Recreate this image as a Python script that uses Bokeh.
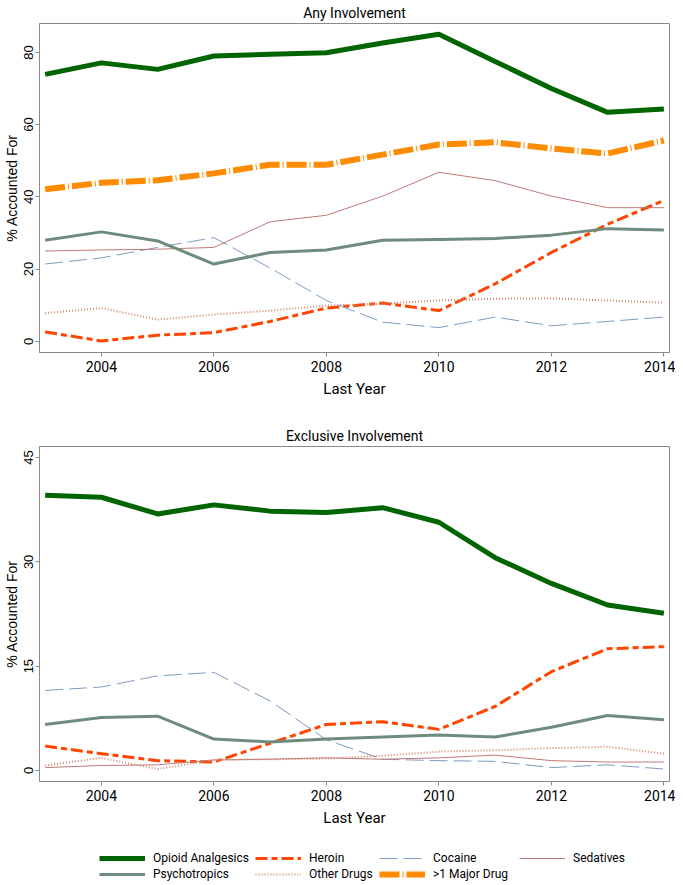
from bokeh.plotting import figure
from bokeh.models import FixedTicker, Legend, LegendItem, Range1d, Title
from bokeh.layouts import column
from bokeh.embed import file_html
from bokeh.resources import INLINE

years = list(range(2003, 2015))
x_ticks = [2004, 2006, 2008, 2010, 2012, 2014]
any_y_ticks = [0, 20, 40, 60, 80]
excl_y_ticks = [0, 15, 30, 45]

series_names = ["Opioid Analgesics", "Heroin", "Cocaine", "Sedatives",
                "Psychotropics", "Other Drugs", ">1 Major Drug"]

# Any involvement (%)
any_opioid = [73.9, 77.1, 75.3, 79.0, 79.5, 79.9, 82.6, 85.0, 77.5, 70.0, 63.4, 64.3]
any_heroin = [2.6, 0.1, 1.7, 2.4, 5.5, 9.2, 10.6, 8.5, 15.9, 24.6, 32.4, 39.0]
any_cocaine = [21.4, 23.1, 26.0, 28.7, 20.3, 11.3, 5.3, 3.8, 6.7, 4.3, 5.5, 6.7]
any_sedatives = [25.0, 25.3, 25.5, 26.0, 33.1, 34.9, 40.2, 46.8, 44.5, 40.2, 37.0, 37.0]
any_psycho = [28.0, 30.3, 27.8, 21.4, 24.6, 25.3, 28.0, 28.2, 28.5, 29.4, 31.2, 30.8]
any_other = [7.8, 9.2, 6.0, 7.4, 8.5, 9.9, 10.4, 11.3, 11.8, 11.9, 11.3, 10.7]
any_multi = [42.1, 43.9, 44.6, 46.5, 48.9, 48.9, 51.7, 54.5, 55.1, 53.4, 52.0, 55.6]

# Exclusive involvement (%)
ex_opioid = [39.6, 39.3, 36.9, 38.2, 37.3, 37.1, 37.8, 35.7, 30.6, 26.9, 23.8, 22.6]
ex_heroin = [3.5, 2.4, 1.4, 1.2, 3.9, 6.6, 7.0, 5.9, 9.2, 14.2, 17.5, 17.8]
ex_cocaine = [11.5, 12.0, 13.6, 14.1, 10.0, 4.4, 1.6, 1.4, 1.3, 0.4, 0.8, 0.2]
ex_sedatives = [0.4, 0.7, 0.8, 1.5, 1.6, 1.8, 1.6, 1.8, 2.2, 1.4, 1.2, 1.2]
ex_psycho = [6.6, 7.6, 7.8, 4.5, 4.1, 4.5, 4.8, 5.1, 4.8, 6.2, 7.9, 7.3]
ex_other = [0.7, 1.8, 0.2, 1.5, 1.6, 1.7, 2.1, 2.7, 2.9, 3.2, 3.4, 2.4]

styles = {
    "Opioid Analgesics": dict(line_color="#006400", line_width=5),
    "Heroin": dict(line_color="#FF4500", line_width=3, line_dash="12 4 6 4"),
    "Cocaine": dict(line_color="#7B9CC4", line_width=1, line_dash="18 6"),
    "Sedatives": dict(line_color="#C07878", line_width=1),
    "Psychotropics": dict(line_color="#6E8B7C", line_width=3),
    "Other Drugs": dict(line_color="#D4876C", line_width=2, line_dash="1 2"),
    ">1 Major Drug": dict(line_color="#FF8C00", line_width=6, line_dash="20 3 1 3"),
}

NARROW = "Roboto"
WIDE = "Liberation Sans"
GRAY = "#8a8a8a"


def make_fig(title, height, y_range, y_ticks, border_top, border_bottom):
    p = figure(width=675, height=height, output_backend="svg", toolbar_location=None,
               x_range=Range1d(2002.9, 2014.1), y_range=Range1d(*y_range),
               min_border_left=0, min_border_right=6,
               min_border_top=border_top, min_border_bottom=border_bottom)
    p.title = Title(text=title, align="center", text_font=NARROW, text_font_size="14px",
                    text_font_style="normal", text_color="#000000", standoff=5)
    p.title.offset = 0
    p.xgrid.visible = False
    p.ygrid.visible = False
    p.outline_line_color = GRAY
    p.outline_line_width = 1
    p.background_fill_color = "white"
    p.border_fill_color = "white"

    p.xaxis.ticker = FixedTicker(ticks=x_ticks)
    p.xaxis.axis_label = "Last Year"
    p.xaxis.axis_label_text_font = NARROW
    p.xaxis.axis_label_text_font_size = "15px"
    p.xaxis.axis_label_text_font_style = "normal"
    p.xaxis.axis_label_standoff = 5
    p.xaxis.major_label_text_font = NARROW
    p.xaxis.major_label_text_font_size = "14px"
    p.xaxis.major_label_standoff = 4

    p.yaxis.ticker = FixedTicker(ticks=y_ticks)
    p.yaxis.axis_label = "% Accounted For"
    p.yaxis.axis_label_text_font = WIDE
    p.yaxis.axis_label_text_font_size = "14px"
    p.yaxis.axis_label_text_font_style = "normal"
    p.yaxis.axis_label_standoff = 2
    p.yaxis.major_label_text_font = WIDE
    p.yaxis.major_label_text_font_size = "13px"
    p.yaxis.major_label_orientation = "vertical"
    p.yaxis.major_label_standoff = 2

    for ax in (p.xaxis, p.yaxis):
        ax.axis_line_color = GRAY
        ax.major_tick_line_color = GRAY
        ax.major_tick_out = 4
        ax.major_tick_in = 0
        ax.minor_tick_line_color = None
        ax.major_label_text_color = "#000000"
        ax.axis_label_text_color = "#000000"
    return p


p1 = make_fig("Any Involvement", 406, (-3.1, 88.0), any_y_ticks, 14, 54)
any_data = [any_opioid, any_heroin, any_cocaine, any_sedatives, any_psycho, any_other, any_multi]
for name, vals in zip(series_names, any_data):
    p1.line(years, vals, line_join="round", **styles[name])

p2 = make_fig("Exclusive Involvement", 425, (-1.6, 46.6), excl_y_ticks, 40, 50)
ex_data = [ex_opioid, ex_heroin, ex_cocaine, ex_sedatives, ex_psycho, ex_other]
for name, vals in zip(series_names[:6], ex_data):
    p2.line(years, vals, line_join="round", **styles[name])

# legend panel: key lines use the series but the panel's ranges keep them out of view
pl = figure(width=675, height=50, output_backend="svg", toolbar_location=None,
            x_axis_location=None, y_axis_location=None,
            x_range=Range1d(0, 1), y_range=Range1d(0, 1),
            min_border_left=0, min_border_right=0, min_border_top=0, min_border_bottom=0)
pl.outline_line_color = None
pl.xgrid.visible = False
pl.ygrid.visible = False

legend_cols = [60, 216, 340, 480]
legend_rows = [16, 0]
for i, name in enumerate(series_names):
    r = pl.line(years, any_data[i], **styles[name])
    col = i % 4
    row = i // 4
    lg = Legend(items=[LegendItem(label=name, renderers=[r])],
                location=(legend_cols[col], legend_rows[row]),
                orientation="horizontal", glyph_width=46, glyph_height=14,
                label_standoff=8, spacing=0, padding=0, margin=0,
                label_text_font=NARROW, label_text_font_size="12px",
                label_text_color="#000000",
                label_height=14, border_line_color=None, background_fill_alpha=0)
    pl.add_layout(lg)

layout = column(p1, p2, pl, spacing=0)
open("out.html", "w").write(file_html(layout, INLINE))
